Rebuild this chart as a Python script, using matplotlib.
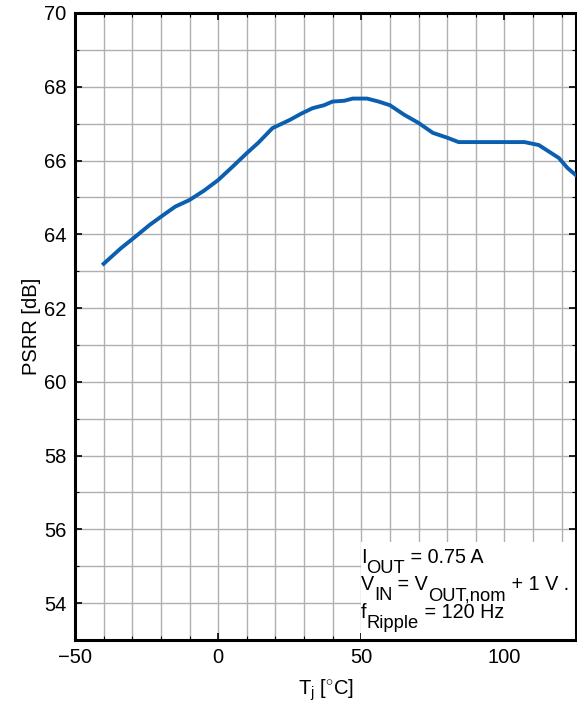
import numpy as np
import matplotlib
matplotlib.use("Agg")
import matplotlib.pyplot as plt
from matplotlib.ticker import MultipleLocator
from matplotlib.transforms import offset_copy

plt.rcParams['font.family'] = ['Liberation Sans', 'DejaVu Sans']
plt.rcParams['mathtext.fontset'] = 'custom'
plt.rcParams['mathtext.rm'] = 'Liberation Sans'
plt.rcParams['mathtext.it'] = 'Liberation Sans'

# junction temperature [°C] and PSRR [dB]
temp = [-40, -34, -29, -24, -19, -15, -10, -5, 0, 5, 10, 14, 19, 25,
        29, 33, 37, 40, 44, 47, 52, 56, 60, 65, 70, 75, 80, 84,
        90, 100, 107, 112, 116, 119, 122, 125]
psrr = [63.2, 63.62, 63.93, 64.25, 64.53, 64.75, 64.93, 65.18, 65.47, 65.83,
        66.2, 66.48, 66.88, 67.1, 67.27, 67.42, 67.5, 67.6, 67.62, 67.68, 67.68,
        67.6, 67.5, 67.24, 67.02, 66.75, 66.62, 66.5, 66.5, 66.5, 66.5,
        66.42, 66.22, 66.07, 65.8, 65.6]

# condition lines: (text, is_subscript) pieces
notes = [[('I', False), ('OUT', True), (' = 0.75 A', False)],
         [('V', False), ('IN', True), (' = V', False), ('OUT,nom', True),
          (' + 1 V .', False)],
         [('f', False), ('Ripple', True), (' = 120 Hz', False)]]

fig = plt.figure(figsize=(5.77, 7.06), dpi=100)
ax = fig.add_axes([75 / 577, 66 / 706, 501 / 577, 627 / 706])

ax.plot(temp, psrr, color='#0a5fb0', lw=2.8, zorder=4)

ax.set_xlim(-50, 125)
ax.set_ylim(53, 70)
ax.xaxis.set_minor_locator(MultipleLocator(10))
ax.yaxis.set_minor_locator(MultipleLocator(1))
ax.set_yticks([54, 56, 58, 60, 62, 64, 66, 68, 70])
ax.set_xticks([-50, 0, 50, 100])
ax.set_xticklabels(['\u221250', '0', '50', '100'])

ax.grid(True, which='both', color='#b0b0b0', lw=1.0, zorder=0)
ax.set_axisbelow(True)

ax.tick_params(which='major', direction='in', length=5, width=1.2,
               labelsize=14.5, top=True, right=True, pad=6)
ax.tick_params(which='minor', direction='in', length=3, width=0.8,
               top=True, right=True)

for s in ax.spines.values():
    s.set_linewidth(2.2)

ax.set_xlabel(r'T$_{\mathrm{j}}$ [$^{\circ}$C]', fontsize=14.5, labelpad=7)
ax.set_ylabel('PSRR [dB]', fontsize=14.5, labelpad=2)

# white condition box, no border, hides the grid
ax.add_patch(plt.Rectangle((50, 53), 75, 2.67, facecolor='white',
                           edgecolor='none', zorder=2))

renderer = fig.canvas.get_renderer()
y0 = 55.1
for i, line in enumerate(notes):
    dx = 0.0
    for txt, sub in line:
        tr = offset_copy(ax.transData, fig=fig, x=dx,
                         y=-i * 27.5 - (10 if sub else 0), units='dots')
        t = ax.text(49.9, y0, txt, fontsize=13.2 if sub else 14.2,
                    va='baseline', ha='left', transform=tr, zorder=5)
        dx += t.get_window_extent(renderer).width

fig.savefig('out.png', dpi=100)
